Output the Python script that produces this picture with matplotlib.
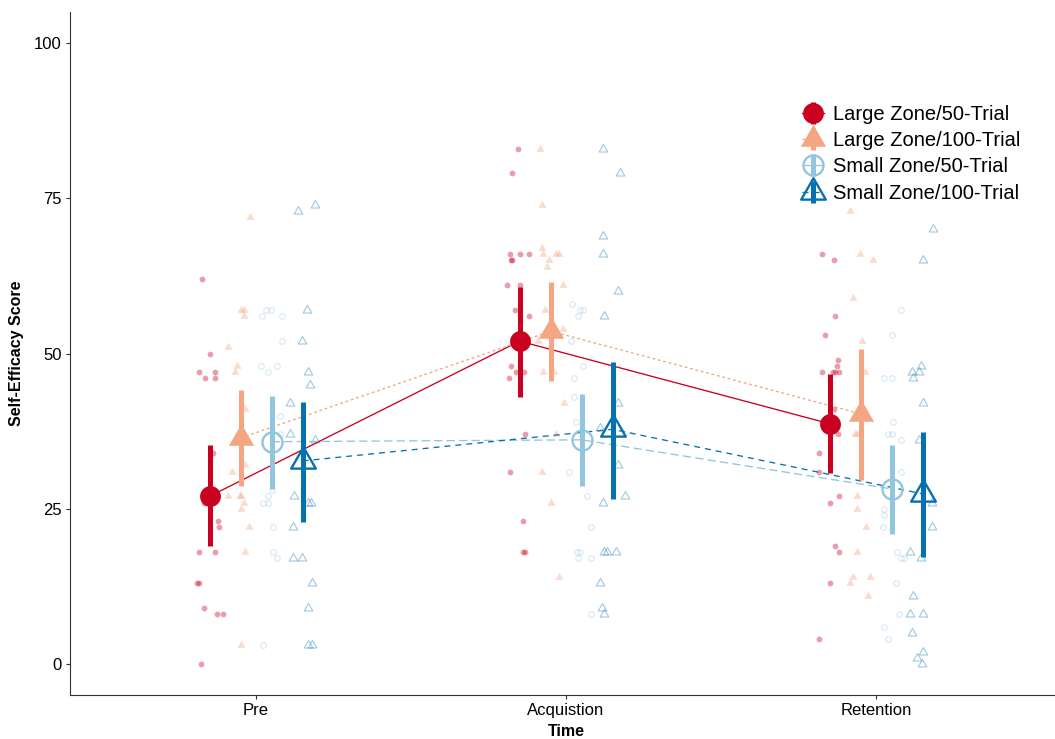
import matplotlib

matplotlib.use("Agg")
import matplotlib.pyplot as plt
import numpy as np
from matplotlib.lines import Line2D
from matplotlib.path import Path

plt.rcParams["font.family"] = ["Liberation Sans", "DejaVu Sans"]
plt.rcParams["lines.scale_dashes"] = False

TIMES = ["Pre", "Acquistion", "Retention"]
GROUPS = [
    "Large Zone/50-Trial",
    "Large Zone/100-Trial",
    "Small Zone/50-Trial",
    "Small Zone/100-Trial",
]

# group means and 95% CI bounds at Pre / Acquisition / Retention
L50_MEAN = [27.0, 52.0, 38.7]
L50_LOW = [19.0, 43.0, 30.7]
L50_HIGH = [35.2, 60.7, 46.7]

L100_MEAN = [36.4, 53.6, 40.3]
L100_LOW = [28.6, 45.6, 29.7]
L100_HIGH = [44.1, 61.5, 50.8]

S50_MEAN = [35.8, 36.1, 28.2]
S50_LOW = [28.2, 28.7, 20.9]
S50_HIGH = [43.2, 43.5, 35.3]

S100_MEAN = [32.7, 37.8, 27.4]
S100_LOW = [22.8, 26.6, 17.2]
S100_HIGH = [42.2, 48.6, 37.4]

# individual participant scores, one list per time point
L50_SCORES = [
    [62, 50, 47, 47, 46, 46, 34, 26, 23, 22, 18, 18, 13, 13, 9, 8, 8, 0],
    [83, 79, 66, 66, 66, 65, 65, 61, 61, 57, 56, 48, 47, 47, 46, 37, 31, 23, 18, 18],
    [66, 65, 56, 53, 49, 48, 47, 47, 47, 47, 41, 37, 34, 31, 27, 26, 19, 18, 13, 4],
]
L100_SCORES = [
    [72, 57, 57, 56, 51, 48, 47, 41, 32, 31, 27, 27, 27, 26, 25, 22, 18, 3],
    [83, 74, 67, 66, 66, 66, 65, 64, 61, 57, 54, 52, 47, 47, 42, 37, 31, 26, 14],
    [73, 66, 65, 59, 52, 47, 37, 37, 27, 25, 22, 18, 14, 13, 14, 11],
]
S50_SCORES = [
    [57, 57, 56, 56, 52, 48, 48, 47, 40, 37, 28, 27, 26, 26, 22, 18, 17, 3],
    [58, 57, 57, 56, 52, 48, 46, 43, 39, 31, 27, 22, 18, 18, 17, 17, 8],
    [57, 53, 46, 46, 39, 37, 37, 36, 31, 25, 24, 22, 18, 17, 17, 13, 8, 6, 4],
]
S100_SCORES = [
    [74, 73, 57, 52, 47, 45, 42, 37, 36, 27, 26, 26, 22, 17, 17, 13, 9, 3, 3],
    [83, 79, 69, 66, 60, 56, 42, 38, 32, 27, 26, 18, 18, 18, 13, 9, 8],
    [70, 65, 48, 47, 47, 46, 42, 36, 26, 22, 18, 17, 11, 8, 8, 5, 2, 1, 0],
]

# horizontal jitter of each score (in category units)
L50_JITTER = [
    [-0.023, 0, -0.035, 0.019, -0.016, 0.016, 0.010, -0.019, 0.026, 0.029,
     -0.035, 0.016, -0.035, -0.039, -0.019, 0.023, 0.042, -0.026],
    [-0.006, -0.023, -0.032, 0, 0.029, -0.026, -0.023, -0.039, 0, -0.016,
     0.029, -0.026, -0.013, 0.013, -0.035, 0.019, -0.032, 0.010, 0.010, 0.019],
    [-0.026, 0.013, 0.016, -0.016, 0.026, 0.023, -0.023, 0.010, 0.019, 0.029,
     0.013, 0.026, -0.035, -0.035, 0.032, 0, 0.019, 0.029, 0.003, -0.035],
]
L100_JITTER = [
    [0.029, 0, 0.010, 0.010, -0.042, -0.010, -0.019, 0.013, 0.013, -0.026,
     -0.039, -0.003, 0.003, 0.010, 0.003, 0.026, 0.013, 0.003],
    [-0.035, -0.029, -0.026, -0.023, 0.016, 0.026, -0.006, -0.013, 0.039, -0.019,
     0.039, -0.039, -0.023, 0.010, 0.042, 0.016, -0.026, 0.003, 0.026],
    [-0.035, -0.003, 0.039, -0.026, 0.006, 0.013, -0.019, -0.010, -0.010, -0.013,
     0.019, -0.013, -0.023, -0.035, 0.032, 0.023],
]
S50_JITTER = [
    [-0.019, -0.003, -0.032, 0.035, 0.035, -0.035, 0.019, -0.013, 0.026, 0.026,
     0, -0.013, -0.026, -0.010, 0.006, 0.006, 0.019, -0.029],
    [-0.032, -0.006, 0.006, -0.010, -0.035, 0.006, -0.026, -0.023, -0.019, -0.039,
     0.019, 0.029, -0.016, -0.006, -0.013, 0.029, 0.029],
    [0.029, 0.003, -0.026, 0, 0.006, -0.013, 0.003, 0.032, 0.029, -0.026,
     -0.023, -0.029, 0.016, 0.032, 0.039, 0.013, 0.023, -0.026, -0.010],
]
S100_JITTER = [
    [0.039, -0.016, 0.013, -0.003, 0.016, 0.023, -0.042, -0.039, 0.039, -0.029,
     0.016, 0.026, -0.032, -0.032, -0.003, 0.029, 0.016, 0.016, 0.029],
    [-0.032, 0.023, -0.032, -0.032, 0.016, -0.029, 0.016, -0.039, 0.016, 0.039,
     -0.032, -0.029, -0.019, 0.010, -0.039, -0.035, -0.029],
    [0.035, 0, -0.006, -0.035, -0.010, -0.032, 0, -0.013, 0.032, 0.032,
     -0.039, -0.006, -0.032, -0.042, 0.003, -0.035, 0, -0.019, -0.003],
]

COLORS = ["#CA0020", "#F4A582", "#92C5DE", "#0571B0"]
DODGE = [-0.15, -0.05, 0.05, 0.15]

# closed equilateral triangle centred on its centroid
TRIANGLE = Path(
    [(0, 1), (-0.866, -0.5), (0.866, -0.5), (0, 1)],
    [Path.MOVETO, Path.LINETO, Path.LINETO, Path.CLOSEPOLY],
)

# per group: mean marker, raw marker, line dash
STYLES = [
    dict(marker="o", ms=15, filled=True, raw_ms=4.2, dashes=None),
    dict(marker=TRIANGLE, ms=21, filled=True, raw_ms=6.8, dashes=(2.0, 2.0)),
    dict(marker="o", ms=14.4, filled=False, raw_ms=4.0, dashes=(6.0, 3.0)),
    dict(marker=TRIANGLE, ms=20.5, filled=False, raw_ms=7.2, dashes=(4.3, 3.6)),
]

means = [L50_MEAN, L100_MEAN, S50_MEAN, S100_MEAN]
lows = [L50_LOW, L100_LOW, S50_LOW, S100_LOW]
highs = [L50_HIGH, L100_HIGH, S50_HIGH, S100_HIGH]
scores = [L50_SCORES, L100_SCORES, S50_SCORES, S100_SCORES]
jitters = [L50_JITTER, L100_JITTER, S50_JITTER, S100_JITTER]

fig = plt.figure(figsize=(10.55, 7.39), dpi=100)
ax = fig.add_axes([0.0664, 0.0595, 0.9403, 0.9242])
x_base = np.arange(1, len(TIMES) + 1)

for g, color in enumerate(COLORS):
    style = STYLES[g]
    xs = x_base + DODGE[g]

    # raw scores
    for t in range(len(TIMES)):
        px = xs[t] + np.array(jitters[g][t])
        py = np.array(scores[g][t])
        if style["filled"]:
            ax.plot(px, py, linestyle="none", marker=style["marker"], ms=style["raw_ms"],
                    color=color, mew=0, alpha=0.38, zorder=1)
        else:
            ax.plot(px, py, linestyle="none", marker=style["marker"], ms=style["raw_ms"],
                    mfc="none", mec=color, mew=0.8, alpha=0.38, zorder=1)

    # connecting line between time points
    line = ax.plot(xs, means[g], color=color, lw=0.95, zorder=2)[0]
    if style["dashes"] is not None:
        line.set_dashes(style["dashes"])

    # confidence intervals
    ax.vlines(xs, lows[g], highs[g], color=color, lw=3.6, zorder=3)

    # group means
    if style["filled"]:
        ax.plot(xs, means[g], linestyle="none", marker=style["marker"], ms=style["ms"],
                color=color, mew=0, zorder=4)
    else:
        ax.plot(xs, means[g], linestyle="none", marker=style["marker"], ms=style["ms"],
                mfc="none", mec=color, mew=1.7, zorder=4)

ax.set_xlim(0.4, 3.6)
ax.set_ylim(-5, 105)
ax.set_xticks(x_base)
ax.set_xticklabels(TIMES)
ax.set_yticks([0, 25, 50, 75, 100])
ax.tick_params(axis="both", labelsize=12, length=3, width=0.8, color="#333333",
               labelcolor="black", pad=3)
for side in ["top", "right"]:
    ax.spines[side].set_visible(False)
for side in ["left", "bottom"]:
    ax.spines[side].set_linewidth(0.8)
    ax.spines[side].set_color("#333333")

ax.set_xlabel("Time", fontsize=11.5, fontweight="bold", labelpad=4)
ax.set_ylabel("Self-Efficacy Score", fontsize=11.5, fontweight="bold", labelpad=7)

handles = []
for g, color in enumerate(COLORS):
    style = STYLES[g]
    ln = Line2D([], [], color=color, lw=0.95)
    if style["dashes"] is not None:
        ln.set_dashes(style["dashes"])
    bar = Line2D([], [], linestyle="none", marker="|", ms=16, mew=3.6, color=color)
    if style["filled"]:
        mk = Line2D([], [], linestyle="none", marker=style["marker"], ms=style["ms"],
                    color=color, mew=0)
    else:
        mk = Line2D([], [], linestyle="none", marker=style["marker"], ms=style["ms"],
                    mfc="none", mec=color, mew=1.7)
    handles.append((ln, bar, mk))

fig.legend(handles, GROUPS, loc="upper left", bbox_to_anchor=(0.760, 0.858),
           frameon=False, fontsize=14.5, handlelength=1.1, handletextpad=0.45,
           labelspacing=0.36, borderpad=0, borderaxespad=0)

fig.savefig("out.png", dpi=100)
